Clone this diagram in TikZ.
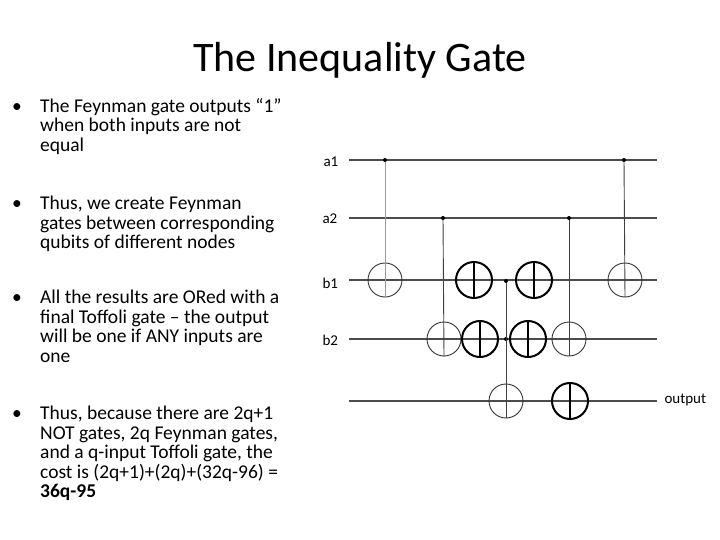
\documentclass[tikz,border=0pt]{standalone}
\usepackage{fontspec}
\setmainfont{Carlito}
\newcommand{\bl}{\makebox[28pt][l]{•}}
\newcommand{\ind}{\hspace*{28pt}}
\begin{document}
\begin{tikzpicture}[x=1pt,y=-1pt,
  wire/.style={draw=black!70,line width=1.1pt},
  ctl/.style={draw=black!75,line width=0.9pt},
  targ/.style={circle,draw=black!80,line width=0.9pt,minimum size=34pt,inner sep=0pt},
  notg/.style={circle,draw=black,line width=2pt,minimum size=36pt,inner sep=0pt},
  dotn/.style={circle,fill=black,minimum size=4pt,inner sep=0pt},
  lab/.style={font=\fontsize{15}{16}\selectfont},
  bul/.style={anchor=north west,align=left,font=\fontsize{19.5}{19.5}\selectfont,inner sep=0pt}]
\useasboundingbox (0,0) rectangle (720,540);
\node (title) at (360,60) {\fontsize{42}{46}\selectfont The Inequality Gate};
\node[bul] (b1) at (12,98) {\bl The Feynman gate outputs “1”\\\ind when both inputs are not\\\ind equal};
\node[bul] (b2) at (12,196) {\bl Thus, we create Feynman\\\ind gates between corresponding\\\ind qubits of different nodes};
\node[bul] (b3) at (12,290) {\bl All the results are ORed with a\\\ind final Toffoli gate – the output\\\ind will be one if ANY inputs are\\\ind one};
\node[bul] (b4) at (12,406) {\bl Thus, because there are 2q+1\\\ind NOT gates, 2q Feynman gates,\\\ind and a q-input Toffoli gate, the\\\ind cost is (2q+1)+(2q)+(32q-96) =\\\ind \textbf{36q-95}};
% wires
\foreach \n/\y in {A/160,B/218,C/280,D/339,E/401}{
  \coordinate (\n s) at (349,\y); \coordinate (\n e) at (657,\y);
  \draw[wire] (\n s) -- (\n e);}
\node[lab,anchor=west] (la1) at (320,162) {a1};
\node[lab,anchor=west] (la2) at (319,219) {a2};
\node[lab,anchor=west] (lb1) at (319,283) {b1};
\node[lab,anchor=west] (lb2) at (319,340) {b2};
\node[lab,anchor=west] (lout) at (661,400) {output};
% feynman
\node[dotn] (c1) at (385,160) {}; \node[targ] (t1) at (385,280) {};
\draw[ctl,draw=black!40] (c1) -- (t1.south);
\node[dotn] (c2) at (443,218) {}; \node[targ] (t2) at (444,339) {};
\draw[ctl] (c2) -- (t2.south);
\node[dotn] (c3) at (569,218) {}; \node[targ] (t3) at (569,339) {};
\draw[ctl] (c3) -- (t3.south);
\node[dotn] (c4) at (624,160) {}; \node[targ] (t4) at (625,280) {};
\draw[ctl] (c4) -- (t4.south);
% NOT gates
\foreach \n/\x/\y in {n1/474/280,n2/534/280,n3/480/339,n4/528/339,n5/570/401}{
  \node[notg] (\n) at (\x,\y) {};
  \draw[line width=2pt] (\n.north) -- (\n.south);}
% toffoli
\node[dotn] (tc1) at (506,281) {}; \node[dotn] (tc2) at (506,339) {};
\node[targ] (tt) at (506,401) {};
\draw[ctl] (tc1) -- (tt.south);
\end{tikzpicture}
\end{document}
